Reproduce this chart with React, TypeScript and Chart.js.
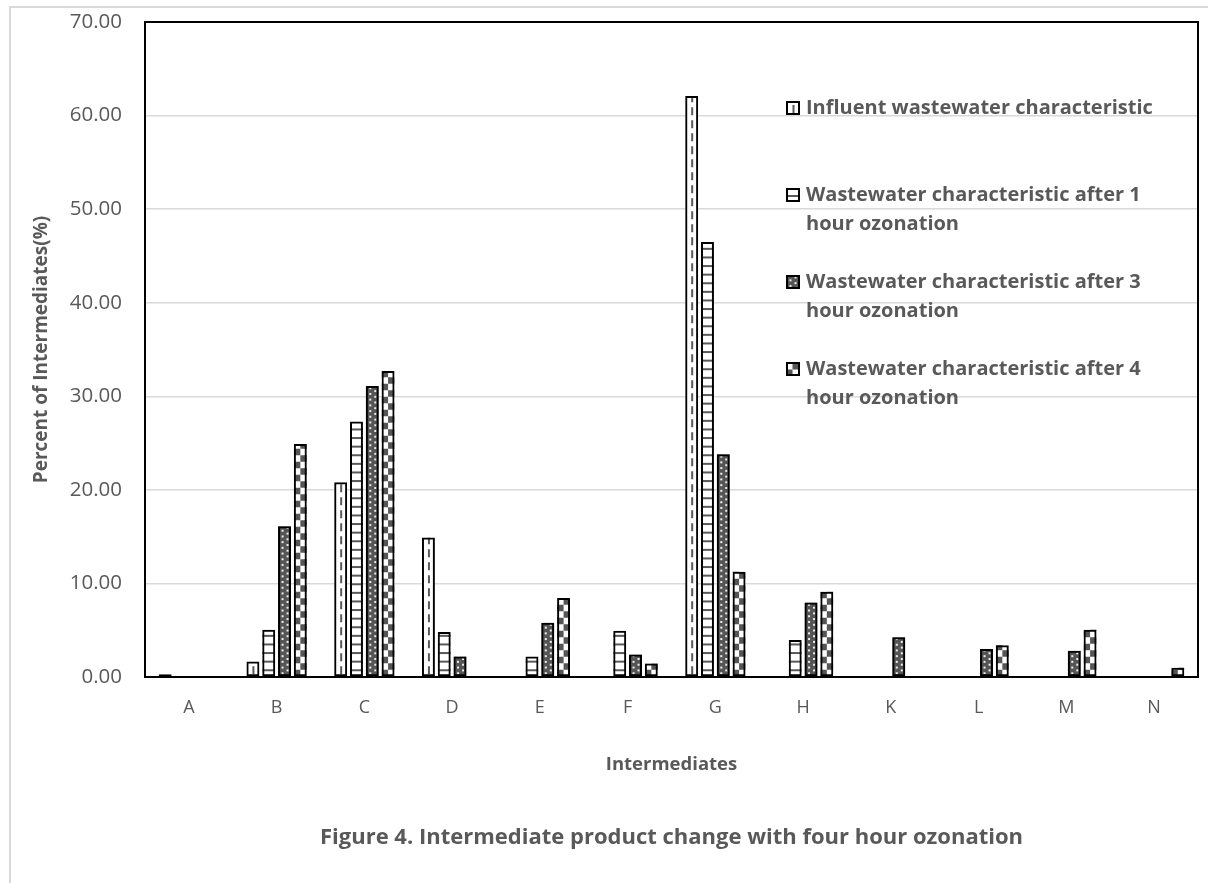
import React, { useEffect, useRef } from "react";
import { Chart, registerables } from "chart.js";

Chart.register(...registerables);

const categories = ["A", "B", "C", "D", "E", "F", "G", "H", "K", "L", "M", "N"];
const influent = [0.3, 1.65, 20.8, 14.9, 0, 0, 62.1, 0, 0, 0, 0, 0];
const after1h = [0, 5.05, 27.3, 4.8, 2.2, 4.95, 46.5, 3.95, 0, 0, 0, 0];
const after3h = [0, 16.1, 31.1, 2.2, 5.8, 2.4, 23.8, 7.95, 4.25, 3.0, 2.8, 0];
const after4h = [0, 24.9, 32.7, 0, 8.45, 1.45, 11.25, 9.1, 0, 3.4, 5.05, 1.0];
const seriesLabels = [
  "Influent wastewater characteristic",
  "Wastewater characteristic after 1 hour ozonation",
  "Wastewater characteristic after 3 hour ozonation",
  "Wastewater characteristic after 4 hour ozonation",
];
const yMin = 0;
const yMax = 70;
const yStep = 10;
const xTitle = "Intermediates";
const yTitle = "Percent of Intermediates(%)";
const caption = "Figure 4. Intermediate product change with four hour ozonation";

const FONT = "'Open Sans', 'DejaVu Sans', sans-serif";
const GRAY = "#595959";

function drawPattern(ctx: CanvasRenderingContext2D, kind: number, left: number, top: number, right: number, bottom: number) {
  const w = right - left;
  const h = bottom - top;
  if (w <= 0 || h <= 0) return;
  ctx.save();
  ctx.beginPath();
  ctx.rect(left, top, w, h);
  ctx.clip();
  if (kind === 0) {
    ctx.fillStyle = "#ffffff";
    ctx.fillRect(left, top, w, h);
    ctx.strokeStyle = GRAY;
    ctx.lineWidth = 2;
    ctx.setLineDash([8, 5]);
    ctx.beginPath();
    const cx = left + w / 2 + 0.5;
    ctx.moveTo(cx, bottom - 2);
    ctx.lineTo(cx, top);
    ctx.stroke();
  } else if (kind === 1) {
    ctx.fillStyle = "#ffffff";
    ctx.fillRect(left, top, w, h);
    ctx.fillStyle = GRAY;
    for (let y = bottom - 6; y > top; y -= 8.6) {
      ctx.fillRect(left, y - 1, w, 2);
    }
  } else if (kind === 2) {
    ctx.fillStyle = "#555555";
    ctx.fillRect(left, top, w, h);
    ctx.fillStyle = "#eeeeee";
    let k = 0;
    for (let y = bottom - 4; y > top - 2; y -= 2.85) {
      const x = k % 2 === 0 ? left + 3.5 : left + 8.5;
      ctx.fillRect(x, y, 2, 2);
      k++;
    }
  } else {
    ctx.fillStyle = "#ffffff";
    ctx.fillRect(left, top, w, h);
    ctx.fillStyle = "#555555";
    const s = 6.5;
    let r = 0;
    for (let y = bottom; y > top - s; y -= s) {
      let c = 0;
      for (let x = left; x < right; x += s) {
        if ((r + c) % 2 === 0) ctx.fillRect(x, y - s, s, s);
        c++;
      }
      r++;
    }
  }
  ctx.restore();
}

function wrapText(ctx: CanvasRenderingContext2D, text: string, maxWidth: number): string[] {
  const words = text.split(" ");
  const lines: string[] = [];
  let cur = "";
  for (const wd of words) {
    const t = cur ? cur + " " + wd : wd;
    if (ctx.measureText(t).width > maxWidth && cur) {
      lines.push(cur);
      cur = wd;
    } else cur = t;
  }
  if (cur) lines.push(cur);
  return lines;
}

const patternPlugin = {
  id: "barPatterns",
  beforeDatasetsDraw(chart: any) {
    const ctx = chart.ctx;
    chart.data.datasets.forEach((_: any, i: number) => {
      const meta = chart.getDatasetMeta(i);
      if (meta.hidden) return;
      meta.data.forEach((bar: any) => {
        const p = bar.getProps(["x", "y", "base", "width"], true);
        const left = p.x - p.width / 2;
        const right = p.x + p.width / 2;
        const top = Math.min(p.y, p.base);
        const bottom = Math.max(p.y, p.base);
        if (bottom - top < 0.5) return;
        drawPattern(ctx, i, left, top, right, bottom);
      });
    });
  },
  afterDatasetsDraw(chart: any) {
    const ctx = chart.ctx;
    const a = chart.chartArea;
    ctx.save();
    ctx.strokeStyle = "#000000";
    ctx.lineWidth = 2;
    ctx.strokeRect(a.left, a.top, a.right - a.left, a.bottom - a.top);
    ctx.restore();
  },
  afterDraw(chart: any) {
    const ctx = chart.ctx;
    const a = chart.chartArea;
    ctx.save();
    // legend
    ctx.font = `bold 20px ${FONT}`;
    ctx.textBaseline = "middle";
    ctx.textAlign = "left";
    const boxLeft = a.right - 412;
    const box = 14;
    const itemGap = 87;
    const lineH = 29;
    chart.data.datasets.forEach((ds: any, i: number) => {
      const y0 = a.top + 86 + i * itemGap;
      drawPattern(ctx, i, boxLeft, y0 - box / 2, boxLeft + box, y0 + box / 2);
      ctx.strokeStyle = "#000";
      ctx.lineWidth = 2;
      ctx.strokeRect(boxLeft + 1, y0 - box / 2 + 1, box - 2, box - 2);
      ctx.fillStyle = GRAY;
      const lines = wrapText(ctx, ds.label, 370);
      lines.forEach((ln, j) => ctx.fillText(ln, boxLeft + box + 6, y0 + j * lineH));
    });
    // caption
    ctx.font = `bold 22px ${FONT}`;
    ctx.textAlign = "center";
    ctx.fillStyle = GRAY;
    ctx.fillText(caption, (a.left + a.right) / 2, 838);
    ctx.restore();
  },
};

export default function App() {
  const ref = useRef<HTMLCanvasElement | null>(null);
  useEffect(() => {
    if (!ref.current) return;
    const chart = new Chart(ref.current, {
      type: "bar",
      data: {
        labels: categories,
        datasets: [influent, after1h, after3h, after4h].map((d, i) => ({
          label: seriesLabels[i],
          data: d,
          backgroundColor: "rgba(0,0,0,0)",
          borderColor: "#000000",
          borderWidth: 2,
          borderSkipped: false,
          categoryPercentage: 0.72,
          barPercentage: 0.82,
        })),
      },
      options: {
        animation: false,
        responsive: true,
        maintainAspectRatio: false,
        layout: { padding: { left: 0, top: 22, right: 10, bottom: 0 } },
        plugins: { legend: { display: false }, tooltip: { enabled: false } },
        scales: {
          x: {
            grid: { display: false, drawTicks: false },
            border: { display: false },
            ticks: { color: GRAY, font: { family: FONT, size: 18 }, padding: 20 },
            title: { display: true, text: xTitle, color: GRAY, font: { family: FONT, size: 18.5, weight: "bold" }, padding: { top: 0, bottom: 106.9 } },
            afterFit: (s: any) => { s.height = 206; s.paddingLeft = 0; s.paddingRight = 0; },
          },
          y: {
            min: yMin,
            max: yMax,
            grid: { color: "#d9d9d9", lineWidth: 1.5, drawTicks: false },
            border: { display: false },
            ticks: { stepSize: yStep, color: GRAY, font: { family: FONT, size: 20.5 }, padding: 23, callback: (v: any) => Number(v).toFixed(2) },
            title: { display: true, text: yTitle, color: GRAY, font: { family: FONT, size: 19, weight: "bold" }, padding: { top: 30.6, bottom: 0 } },
            afterFit: (s: any) => { s.width = 145; s.paddingTop = 0; s.paddingBottom = 0; },
          },
        },
      },
      plugins: [patternPlugin],
    } as any);
    return () => chart.destroy();
  }, []);
  return (
    <div style={{ position: "fixed", left: 0, top: 0, width: 1208, height: 883, overflow: "hidden", background: "#fff" }}>
      <div style={{ position: "absolute", left: 9, top: 6, width: 1400, height: 1000, border: "2px solid #d9d9d9", boxSizing: "border-box" }} />
      <div style={{ position: "absolute", left: 0, top: 0, width: 1208, height: 883 }}>
        <canvas ref={ref} />
      </div>
    </div>
  );
}
